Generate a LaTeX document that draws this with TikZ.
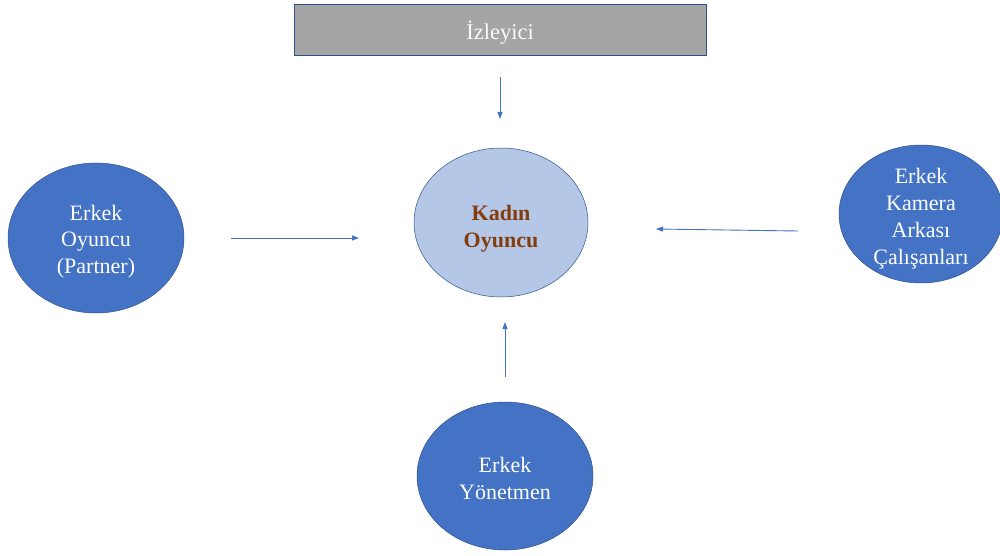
\documentclass[tikz,border=0pt]{standalone}
\usepackage{fontspec}
\setmainfont{Liberation Serif}
\usepackage{tikz}
\definecolor{bb}{RGB}{68, 114, 196}
\definecolor{lb}{RGB}{180, 199, 231}
\definecolor{ln}{RGB}{47, 82, 143}
\definecolor{gg}{RGB}{165, 165, 165}
\definecolor{br}{RGB}{132, 60, 12}
\usetikzlibrary{positioning}
\usetikzlibrary{arrows.meta}
\usetikzlibrary{shapes.geometric}
% centred lines of small size, pushed down by half of the first argument
\newsavebox{\ovalbox}
\newcommand{\ovaltext}[2][5pt]{\sbox{\ovalbox}{\begin{tabular}{@{}c@{}}#2\end{tabular}}%
  \makebox[0pt]{\raisebox{0pt}[\dimexpr\ht\ovalbox-\dp\ovalbox+#1\relax][0pt]{\usebox{\ovalbox}}}}

\begin{document}
\begin{tikzpicture}[
  man/.style={ellipse, fill=bb, draw=ln, line width=0.5pt, inner sep=0pt, text=white, font=\fontsize{22}{26.8}\selectfont},
  arr/.style={-{Triangle[length=7pt,width=5pt]}, line width=0.9pt, color=bb}]
\useasboundingbox (0pt, 0pt) rectangle (1000pt, -556pt);
\node (izleyici) [rectangle, minimum width=412pt, minimum height=51pt, fill=gg, draw=ln, line width=0.6pt, text=white!95!gray, font=\fontsize{22.5}{26}\selectfont] at (500pt, -29.5pt) {\ovaltext[9pt]{İzleyici}};
\node (kadin) [ellipse, minimum width=174pt, minimum height=149pt, fill=lb, draw=ln, line width=0.5pt, inner sep=0pt, text=br, font=\fontsize{22}{26.5}\selectfont\bfseries] at (501pt, -222.5pt) {\ovaltext[12pt]{Kadın\\Oyuncu}};
\node (partner) [man, minimum width=176pt, minimum height=150pt] at (96pt, -238pt) {\ovaltext[7pt]{Erkek\\Oyuncu\\(Partner)}};
\node (kamera) [man, minimum width=164pt, minimum height=138pt] at (921pt, -214pt) {\ovaltext[9pt]{Erkek\\Kamera\\Arkası\\Çalışanları}};
\node (yonetmen) [man, minimum width=176pt, minimum height=148pt] at (505pt, -476pt) {\ovaltext[9pt]{Erkek\\Yönetmen}};
\coordinate (i1) at (500pt, -77pt);
\coordinate (i2) at (500pt, -119pt);
\coordinate (p1) at (231pt, -238pt);
\coordinate (p2) at (359pt, -238pt);
\coordinate (k1) at (798pt, -231pt);
\coordinate (k2) at (656pt, -229pt);
\coordinate (y1) at (505pt, -377pt);
\coordinate (y2) at (505pt, -322pt);
\draw [arr] (i1) to (i2);
\draw [arr] (p1) to (p2);
\draw [arr] (k1) to (k2);
\draw [arr] (y1) to (y2);
\end{tikzpicture}
\end{document}
